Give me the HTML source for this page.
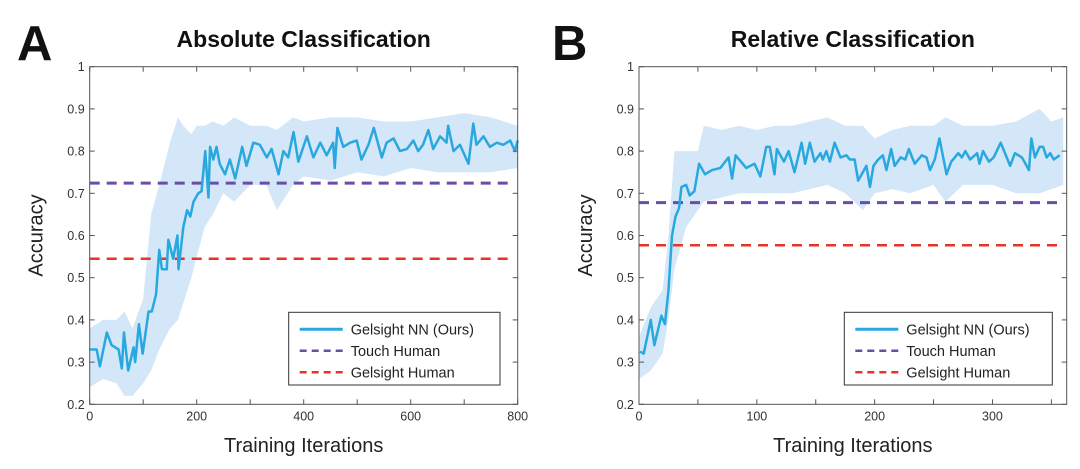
<!DOCTYPE html>
<html><head><meta charset="utf-8"><style>
body{margin:0;background:#fff;}
svg text{font-family:"Liberation Sans",Arial,sans-serif;}
</style></head><body>
<svg id="fig" width="1080" height="464" viewBox="0 0 1080 464" xmlns="http://www.w3.org/2000/svg"></svg>
<script>
const yTicks=[0.2,0.3,0.4,0.5,0.6,0.7,0.8,0.9,1];
const yTickLabels=["0.2","0.3","0.4","0.5","0.6","0.7","0.8","0.9","1"];
// Panel A data
const xA=[0,13,19,32,41,54,60,64,72,82,85,92,99,110,116,124,130,135,144,147,156,164,166,175,182,188,194,203,209,216,222,225,231,237,243,253,262,272,285,293,306,318,331,340,353,362,371,381,390,406,418,431,443,455,458,463,474,487,499,508,521,531,546,555,568,580,593,605,614,623,633,642,655,667,670,680,692,708,717,723,736,748,761,773,786,795,800];
const yA=[0.33,0.33,0.29,0.37,0.34,0.33,0.285,0.37,0.28,0.335,0.30,0.39,0.32,0.42,0.42,0.46,0.566,0.52,0.52,0.59,0.545,0.60,0.52,0.62,0.66,0.645,0.68,0.70,0.705,0.80,0.69,0.81,0.78,0.81,0.77,0.745,0.78,0.735,0.81,0.765,0.82,0.815,0.785,0.805,0.745,0.80,0.785,0.845,0.775,0.835,0.785,0.82,0.79,0.82,0.76,0.855,0.81,0.82,0.825,0.78,0.815,0.855,0.785,0.82,0.83,0.80,0.805,0.825,0.80,0.815,0.85,0.805,0.835,0.82,0.86,0.80,0.815,0.77,0.865,0.815,0.835,0.81,0.82,0.815,0.825,0.80,0.825];
const bandXA=[0,25,50,65,80,100,115,130,150,165,175,190,200,215,230,250,270,300,330,350,380,400,450,500,550,600,650,700,750,800];
const bandLoA=[0.24,0.26,0.25,0.22,0.22,0.25,0.28,0.33,0.38,0.40,0.44,0.50,0.55,0.62,0.65,0.70,0.68,0.72,0.72,0.66,0.72,0.74,0.73,0.75,0.74,0.76,0.75,0.75,0.75,0.76];
const bandHiA=[0.38,0.40,0.40,0.42,0.38,0.45,0.65,0.72,0.82,0.88,0.86,0.84,0.86,0.86,0.87,0.86,0.88,0.86,0.86,0.85,0.88,0.87,0.88,0.88,0.87,0.87,0.88,0.89,0.88,0.86];
const touchA=0.724, gelA=0.545;
const xTicksA=[0,100,200,300,400,500,600,700,800];
const xTickLabelsA=["0","","200","","400","","600","","800"];
// Panel B data
const xB=[1,4,10,13,19,22,25,28,31,34,36,40,43,47,51,56,62,69,76,79,82,91,98,103,108,111,115,117,123,127,132,138,141,145,149,154,156,159,162,166,171,176,179,183,186,193,196,199,203,207,210,214,217,222,226,229,234,240,244,247,251,255,261,265,271,274,277,281,287,289,292,297,301,307,315,319,325,331,333,336,340,343,346,349,352,357];
const yB=[0.325,0.32,0.40,0.34,0.41,0.39,0.47,0.60,0.645,0.665,0.715,0.72,0.695,0.705,0.77,0.745,0.755,0.76,0.785,0.735,0.79,0.76,0.77,0.74,0.81,0.81,0.745,0.805,0.775,0.80,0.75,0.82,0.77,0.82,0.775,0.795,0.78,0.80,0.775,0.82,0.785,0.79,0.78,0.78,0.73,0.765,0.715,0.765,0.78,0.79,0.755,0.805,0.765,0.785,0.78,0.805,0.77,0.79,0.785,0.755,0.78,0.83,0.745,0.775,0.795,0.785,0.80,0.78,0.795,0.77,0.80,0.775,0.785,0.82,0.765,0.795,0.785,0.755,0.83,0.785,0.81,0.81,0.785,0.795,0.78,0.79];
const bandXB=[0,10,20,25,30,40,50,55,70,85,100,115,130,145,160,175,190,200,215,230,250,260,275,300,320,340,350,360];
const bandLoB=[0.26,0.28,0.32,0.40,0.52,0.62,0.66,0.68,0.69,0.70,0.70,0.70,0.70,0.71,0.72,0.70,0.66,0.70,0.71,0.70,0.72,0.68,0.72,0.72,0.70,0.70,0.71,0.72];
const bandHiB=[0.36,0.43,0.47,0.60,0.80,0.80,0.80,0.86,0.85,0.86,0.85,0.86,0.86,0.87,0.88,0.86,0.86,0.83,0.85,0.86,0.86,0.88,0.86,0.86,0.87,0.90,0.87,0.88];
const touchB=0.678, gelB=0.577;
const xTicksB=[0,50,100,150,200,250,300,350];
const xTickLabelsB=["0","","100","","200","","300",""];

const NS="http://www.w3.org/2000/svg";
const svg=document.getElementById('fig');
function mk(tag,attrs,parent){const e=document.createElementNS(NS,tag);for(const k in attrs)e.setAttribute(k,attrs[k]);(parent||svg).appendChild(e);return e;}

function panel(o){
  const g=mk('g',{});
  
  
  const L=o.left,R=o.right,T=66.7,B=404.3;
  const sx=v=>L+(v-o.xmin)/(o.xmax-o.xmin)*(R-L);
  const sy=v=>B-(v-0.2)/0.8*(B-T);
  // band
  let d='';
  o.bx.forEach((x,i)=>{d+=(i?'L':'M')+sx(x)+','+sy(o.bhi[i]);});
  for(let i=o.bx.length-1;i>=0;i--)d+='L'+sx(o.bx[i])+','+sy(o.blo[i]);
  const band=mk('path',{d:d+'Z',fill:'#d3e7f8'},g);
  
  
  // hlines
  const th=mk('line',{x1:L,x2:R-6,y1:sy(o.touch),y2:sy(o.touch),stroke:'#6a4ea6','stroke-width':3,'stroke-dasharray':'10,7'},g);
  
  
  const gh=mk('line',{x1:L,x2:R-6,y1:sy(o.gel),y2:sy(o.gel),stroke:'#e8332b','stroke-width':2.5,'stroke-dasharray':'10,7'},g);
  
  
  // series
  const pts=o.x.map((x,i)=>sx(x)+','+sy(o.y[i])).join(' ');
  const ln=mk('polyline',{points:pts,fill:'none',stroke:'#29a8df','stroke-width':2.5,'stroke-linejoin':'round'},g);
  
  
  // axes box
  const box=mk('rect',{x:L,y:T,width:R-L,height:B-T,fill:'none',stroke:'#555','stroke-width':1},g);
  
  
  yTicks.forEach((v,i)=>{
    mk('line',{x1:L,x2:L+5,y1:sy(v),y2:sy(v),stroke:'#555'},g);
    mk('line',{x1:R,x2:R-5,y1:sy(v),y2:sy(v),stroke:'#555'},g);
    const t=mk('text',{x:L-5,y:sy(v)+4.5,'text-anchor':'end','font-size':12.5,fill:'#333'},g);
    t.textContent=yTickLabels[i];
    
    
  });
  o.xt.forEach((v,i)=>{
    mk('line',{x1:sx(v),x2:sx(v),y1:B,y2:B-5,stroke:'#555'},g);
    mk('line',{x1:sx(v),x2:sx(v),y1:T,y2:T+5,stroke:'#555'},g);
    if(o.xtl[i]){const t=mk('text',{x:sx(v),y:B+16,'text-anchor':'middle','font-size':12.5,fill:'#333'},g);
    t.textContent=o.xtl[i];
    
    }
  });
  const yl=mk('text',{x:0,y:0,transform:`translate(${L-47},${(T+B)/2}) rotate(-90)`,'text-anchor':'middle','font-size':20,fill:'#222'},g);
  yl.textContent='Accuracy';
  
  
  const xl=mk('text',{x:(L+R)/2,y:452,'text-anchor':'middle','font-size':20,fill:'#222'},g);
  xl.textContent='Training Iterations';
  
  
  const ti=mk('text',{x:(L+R)/2,y:47,'text-anchor':'middle','font-size':23,'font-weight':'bold',fill:'#111'},g);
  ti.textContent=o.title;
  
  
  const lt=mk('text',{x:o.letterX,y:60,'font-size':49,'font-weight':'bold',fill:'#111'},g);
  lt.textContent=o.letter;
  
  
  // legend
  const lg=mk('g',{},g);
  
  
  const lx=o.legX,ly=312.3;
  mk('rect',{x:lx,y:ly,width:o.legW,height:72.7,fill:'#fff',stroke:'#333','stroke-width':1},lg);
  const items=[['Gelsight NN (Ours)','#29a8df',null,3],['Touch Human','#6a4ea6','7,5',2.5],['Gelsight Human','#e8332b','7,5',2.5]];
  items.forEach((it,i)=>{
    const yy=ly+17+i*21.5;
    const a={x1:lx+11,x2:lx+54,y1:yy,y2:yy,stroke:it[1],'stroke-width':it[3]};
    if(it[2])a['stroke-dasharray']=it[2];
    mk('line',a,lg);
    const t=mk('text',{x:lx+62,y:yy+5,'font-size':14.5,fill:'#222'},lg);
    t.textContent=it[0];
    
    
  });
}
panel({name:'panel-a',left:89.7,right:517.7,xmin:0,xmax:800,x:xA,y:yA,bx:bandXA,blo:bandLoA,bhi:bandHiA,touch:touchA,gel:gelA,xt:xTicksA,xtl:xTickLabelsA,title:'Absolute Classification',letter:'A',letterX:17,legX:288.7,legW:211.3});
panel({name:'panel-b',left:639,right:1066.7,xmin:0,xmax:363,x:xB,y:yB,bx:bandXB,blo:bandLoB,bhi:bandHiB,touch:touchB,gel:gelB,xt:xTicksB,xtl:xTickLabelsB,title:'Relative Classification',letter:'B',letterX:552,legX:844.3,legW:208});
</script>
</body></html>
